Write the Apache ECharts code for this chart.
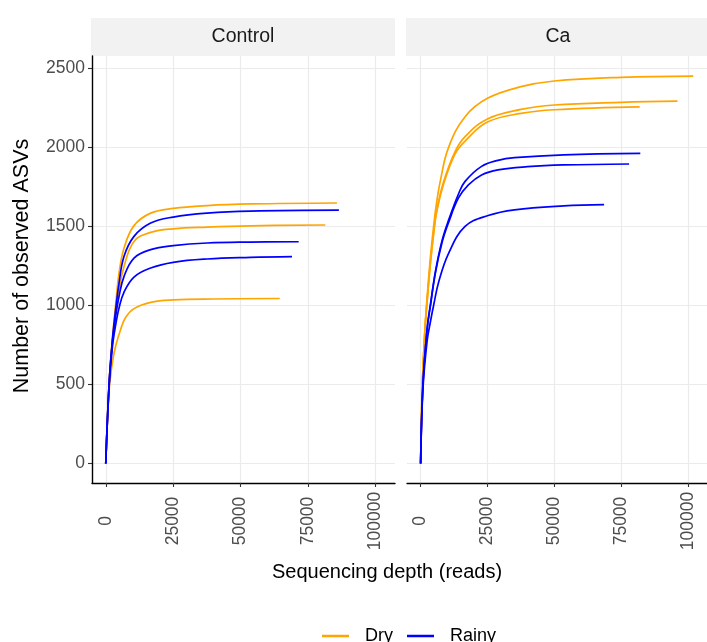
<!DOCTYPE html>
<html>
<head>
<meta charset="utf-8">
<script src="https://cdn.jsdelivr.net/npm/echarts@6/dist/echarts.min.js"></script>
<style>html,body{margin:0;padding:0;background:#fff}#chart{width:707px;height:642px}</style>
</head>
<body>
<div id="chart"></div>
<script>
// ---- data ----
const facets = ['Control', 'Ca'];
const seasons = ['Dry', 'Rainy'];
const xTicks = [0, 25000, 50000, 75000, 100000];
const yTicks = [0, 500, 1000, 1500, 2000, 2500];

// [sequencing depth, observed ASVs]
const control_dry_a = [[0,0],[1220,500],[2470,790],[3700,1010],[4930,1206],[6780,1364],[10470,1505],[16640,1584],[25000,1614],[37600,1632],[53600,1642],[85690,1648]];
const control_dry_b = [[0,0],[1220,495],[2470,775],[3700,960],[4930,1100],[6780,1247],[10470,1405],[16640,1462],[25000,1485],[37600,1496],[53600,1504],[81360,1509]];
const control_dry_c = [[0,0],[1220,455],[2470,640],[3700,745],[5550,850],[7400,925],[10470,980],[16640,1020],[25000,1035],[40000,1041],[64470,1044]];
const control_rainy_a = [[0,0],[1220,500],[2470,785],[3700,980],[4930,1143],[6780,1311],[10470,1437],[16640,1521],[25000,1559],[37600,1584],[53600,1597],[86400,1603]];
const control_rainy_b = [[0,0],[1220,495],[2470,770],[3700,935],[4930,1058],[6780,1184],[10470,1300],[16640,1353],[25000,1378],[37600,1395],[53600,1401],[71500,1403]];
const control_rainy_c = [[0,0],[1220,480],[2470,740],[3700,880],[4930,985],[6780,1085],[10470,1180],[16640,1237],[25000,1273],[37600,1294],[53600,1304],[69040,1309]];

const ca_dry_a = [[0,0],[650,500],[1600,850],[2470,1060],[3700,1310],[4930,1510],[5800,1630],[7400,1790],[10470,2000],[16640,2194],[25000,2310],[37600,2384],[50000,2420],[75000,2443],[102070,2451]];
const ca_dry_b = [[0,0],[650,490],[1600,840],[2470,1040],[3700,1280],[4930,1470],[6000,1600],[8630,1784],[12940,1975],[16640,2068],[25000,2180],[37600,2240],[50000,2268],[75000,2285],[96150,2292]];
const ca_dry_c = [[0,0],[650,490],[1600,835],[2470,1030],[3700,1270],[4930,1460],[6000,1590],[8630,1770],[12940,1960],[16640,2040],[25000,2160],[37600,2215],[50000,2238],[81980,2256]];
const ca_rainy_a = [[0,0],[860,500],[2470,860],[3700,1010],[5550,1216],[8010,1410],[10470,1540],[14170,1705],[16640,1785],[22810,1880],[28960,1918],[35130,1935],[53600,1953],[82230,1962]];
const ca_rainy_b = [[0,0],[860,500],[2470,855],[3700,1000],[5550,1208],[8010,1398],[10470,1525],[14170,1680],[17880,1763],[22810,1826],[28960,1858],[40000,1878],[53600,1889],[78030,1895]];
const ca_rainy_c = [[0,0],[900,480],[2470,780],[3700,900],[4930,1006],[6780,1150],[10470,1330],[16640,1500],[25260,1569],[35130,1605],[53600,1630],[68680,1638]];

const curves = [
  {facet: 0, season: 'Dry', data: control_dry_a},
  {facet: 0, season: 'Dry', data: control_dry_b},
  {facet: 0, season: 'Dry', data: control_dry_c},
  {facet: 0, season: 'Rainy', data: control_rainy_a},
  {facet: 0, season: 'Rainy', data: control_rainy_b},
  {facet: 0, season: 'Rainy', data: control_rainy_c},
  {facet: 1, season: 'Dry', data: ca_dry_a},
  {facet: 1, season: 'Dry', data: ca_dry_b},
  {facet: 1, season: 'Dry', data: ca_dry_c},
  {facet: 1, season: 'Rainy', data: ca_rainy_a},
  {facet: 1, season: 'Rainy', data: ca_rainy_b},
  {facet: 1, season: 'Rainy', data: ca_rainy_c}
];

// ---- styling ----
const FONT = 'Liberation Sans, Arial, Helvetica, sans-serif';
const seasonColor = {Dry: '#FFA500', Rainy: '#0000FF'};
const gridTop = 56, gridH = 427, gridW = 303;
const gridLefts = [92, 407];
const xMin = -5100, xMax = 107200, yMin = -123, yMax = 2578;

const chart = echarts.init(document.getElementById('chart'), null, {renderer: 'canvas'});

const grids = gridLefts.map(l => ({left: l, top: gridTop, width: gridW, height: gridH, containLabel: false}));

const xAxes = gridLefts.map((l, i) => ({
  type: 'value', gridIndex: i, min: xMin, max: xMax,
  axisLine: {show: true, onZero: false, lineStyle: {color: '#000', width: 1.4}},
  axisTick: {show: true, length: 4, customValues: xTicks, lineStyle: {color: '#333', width: 1.1}},
  axisLabel: {customValues: xTicks, rotate: 90, align: 'center', verticalAlign: 'middle', margin: 38,
    fontSize: 17.5, color: '#4D4D4D', fontFamily: FONT, formatter: v => String(v)},
  splitLine: {show: true, lineStyle: {color: '#EBEBEB', width: 1.2}}
}));

const yAxes = gridLefts.map((l, i) => ({
  type: 'value', gridIndex: i, min: yMin, max: yMax,
  axisLine: {show: i === 0, onZero: false, lineStyle: {color: '#000', width: 1.4}},
  axisTick: {show: i === 0, length: 4, customValues: yTicks, lineStyle: {color: '#333', width: 1.1}},
  axisLabel: {show: i === 0, customValues: yTicks, margin: 7, fontSize: 17.5, color: '#4D4D4D', fontFamily: FONT,
    formatter: v => String(v)},
  splitLine: {show: true, lineStyle: {color: '#EBEBEB', width: 1.2}}
}));

const series = curves.map(c => ({
  type: 'line', name: c.season, xAxisIndex: c.facet, yAxisIndex: c.facet,
  data: c.data, showSymbol: false, symbol: 'none', smooth: 0.4,
  color: seasonColor[c.season],
  lineStyle: {color: seasonColor[c.season], width: 1.7},
  clip: true, silent: true, animation: false
}));

const graphics = [];
facets.forEach((f, i) => {
  const left = gridLefts[i] - 1;
  graphics.push({type: 'rect', shape: {x: left, y: 18, width: gridW + 1, height: 38}, style: {fill: '#F2F2F2'}, silent: true});
  graphics.push({type: 'text', x: left + (gridW + 1) / 2, y: 37,
    style: {text: f, fill: '#1A1A1A', font: '19.5px ' + FONT, textAlign: 'center', textVerticalAlign: 'middle'}, silent: true});
});
graphics.push({type: 'text', x: 387, y: 572,
  style: {text: 'Sequencing depth (reads)', fill: '#000', font: '20px ' + FONT, textAlign: 'center', textVerticalAlign: 'middle'}});
graphics.push({type: 'text', x: 22, y: 266, rotation: Math.PI / 2,
  style: {text: 'Number of observed ASVs', fill: '#000', font: '21.5px ' + FONT, textAlign: 'center', textVerticalAlign: 'middle'}});

chart.setOption({
  backgroundColor: '#FFFFFF',
  animation: false,
  grid: grids,
  xAxis: xAxes,
  yAxis: yAxes,
  legend: {
    data: seasons.map(s => ({name: s, icon: 'rect', itemStyle: {color: seasonColor[s]}})),
    left: 317, top: 622, itemWidth: 27, itemHeight: 2.5, itemGap: 14,
    textStyle: {fontSize: 18, color: '#000', fontFamily: FONT, padding: [0, 0, 0, 11]},
    selectedMode: false
  },
  graphic: graphics,
  series: series
});
</script>
</body>
</html>
